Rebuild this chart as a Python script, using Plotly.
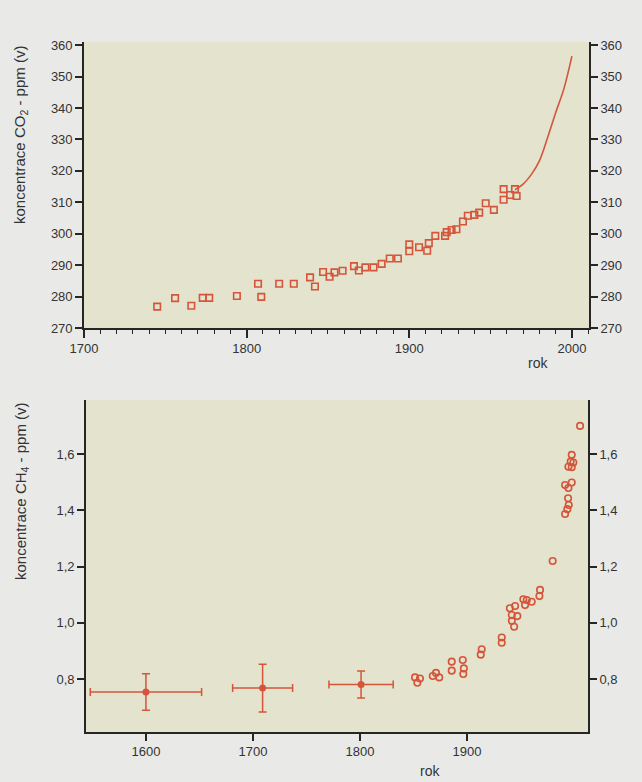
import plotly.graph_objects as go

# ---- CO2 (top panel) ----
co2_years = [1745, 1756, 1766, 1773, 1777, 1794, 1807, 1809, 1820, 1829, 1839, 1842,
             1847, 1851, 1854, 1859, 1866, 1869, 1873, 1878, 1883, 1888, 1893, 1900,
             1900, 1906, 1911, 1912, 1916, 1922, 1923, 1926, 1929, 1933, 1936, 1940,
             1943, 1947, 1952, 1958, 1958, 1962, 1965, 1966]
co2_ppm = [276.8, 279.5, 277.1, 279.6, 279.6, 280.2, 284.1, 279.9, 284.1, 284.1, 286.1, 283.2,
           287.8, 286.3, 287.7, 288.2, 289.7, 288.3, 289.3, 289.3, 290.4, 292.1, 292.1, 296.6,
           294.4, 295.7, 294.6, 297.0, 299.3, 299.3, 300.5, 301.2, 301.4, 303.9, 305.7, 306.0,
           306.7, 309.7, 307.6, 314.2, 310.8, 312.3, 314.2, 312.0]
co2_line_years = [1965, 1970, 1975, 1980, 1985, 1990, 1995, 2000]
co2_line_ppm = [314.0, 315.8, 318.8, 323.2, 330.5, 338.5, 346.0, 356.5]

co2_ticks = [270, 280, 290, 300, 310, 320, 330, 340, 350, 360]
co2_xticks = [1700, 1800, 1900, 2000]

# ---- CH4 (bottom panel) ----
ch4_err_years = [1600, 1709, 1801]
ch4_err_vals = [0.754, 0.768, 0.781]
ch4_err_y = [0.065, 0.085, 0.048]
ch4_err_x = [52, 28, 30]

ch4_years = [1851.4, 1856, 1853.6, 1868, 1871, 1874, 1885.7, 1885.7, 1896, 1897, 1896.5,
             1913.7, 1912.8, 1932.4, 1932.4, 1940, 1944.9, 1941.8, 1947, 1941.8, 1944,
             1952.6, 1955.8, 1954.2, 1960.4, 1968.2, 1967.6, 1980, 1991.6, 1993.7, 1995,
             1994.4, 1991.6, 1997.8, 1994.7, 1997.8, 1996.8, 1999.3, 1994.7, 1997.8, 2005.6]
ch4_vals = [0.806, 0.802, 0.787, 0.811, 0.822, 0.806, 0.862, 0.830, 0.868, 0.838, 0.818,
            0.906, 0.887, 0.948, 0.929, 1.052, 1.060, 1.028, 1.024, 1.007, 0.986,
            1.084, 1.081, 1.063, 1.075, 1.117, 1.095, 1.220, 1.387, 1.404, 1.419,
            1.443, 1.490, 1.499, 1.479, 1.597, 1.573, 1.570, 1.555, 1.553, 1.700]

ch4_ticks = [0.8, 1.0, 1.2, 1.4, 1.6]
ch4_ticktext = ["0,8", "1,0", "1,2", "1,4", "1,6"]
ch4_xticks = [1600, 1700, 1800, 1900]

RED = "#d4553a"
AX = "#262626"
TXT = "#333333"
FONT = "Liberation Sans, Arial, sans-serif"

W, H = 642, 782
def px(x): return x / W
def py(y): return 1 - y / H

fig = go.Figure()

fig.add_trace(go.Scatter(x=co2_years, y=co2_ppm, mode="markers",
                         marker=dict(symbol="square-open", size=6.5, color=RED, line=dict(width=1.6, color=RED)),
                         xaxis="x", yaxis="y", showlegend=False))
fig.add_trace(go.Scatter(x=co2_line_years, y=co2_line_ppm, mode="lines", line=dict(color=RED, width=1.6, shape="spline"),
                         xaxis="x", yaxis="y", showlegend=False))
# right-axis companion (same data, invisible) so the right axis is drawn
fig.add_trace(go.Scatter(x=co2_line_years, y=co2_line_ppm, mode="lines", line=dict(width=0), opacity=0,
                         xaxis="x", yaxis="y3", showlegend=False, hoverinfo="skip"))

fig.add_trace(go.Scatter(x=ch4_err_years, y=ch4_err_vals, mode="markers",
                         marker=dict(symbol="circle", size=7, color=RED),
                         error_y=dict(type="data", array=ch4_err_y, color=RED, thickness=1.5, width=4),
                         error_x=dict(type="data", array=ch4_err_x, color=RED, thickness=1.5, width=4),
                         xaxis="x2", yaxis="y2", showlegend=False))
fig.add_trace(go.Scatter(x=ch4_years, y=ch4_vals, mode="markers",
                         marker=dict(symbol="circle-open", size=6.5, color=RED, line=dict(width=1.6, color=RED)),
                         xaxis="x2", yaxis="y2", showlegend=False))
fig.add_trace(go.Scatter(x=ch4_years, y=ch4_vals, mode="lines", line=dict(width=0), opacity=0,
                         xaxis="x2", yaxis="y4", showlegend=False, hoverinfo="skip"))

axis_common = dict(showgrid=False, zeroline=False, showline=True, linecolor=AX, linewidth=1.6,
                   ticks="outside", tickcolor=AX, tickwidth=1.5, automargin=False,
                   tickfont=dict(family=FONT, size=13, color=TXT))

fig.update_layout(
    width=W, height=H,
    margin=dict(l=0, r=0, t=0, b=0, autoexpand=False),
    paper_bgcolor="#e9eae8",
    plot_bgcolor="#e4e3cd",
    font=dict(family=FONT, color=TXT),
    xaxis=dict(domain=[px(84), px(589)], anchor="y", range=[1700, 2010.5],
               tickvals=co2_xticks, ticklen=8,
               minor=dict(dtick=10, tick0=1700, ticks="outside", ticklen=4, tickcolor=AX, tickwidth=1.3),
               **axis_common),
    yaxis=dict(domain=[py(328), py(42)], anchor="x", range=[270, 361],
               tickvals=co2_ticks, ticklen=7, **axis_common),
    yaxis3=dict(overlaying="y", anchor="x", side="right", range=[270, 361],
                tickvals=co2_ticks, ticklen=7, **axis_common),
    xaxis2=dict(domain=[px(86), px(588)], anchor="y2", range=[1544, 2013],
                tickvals=ch4_xticks, ticklen=7, **axis_common),
    yaxis2=dict(domain=[py(732), py(400)], anchor="x2", range=[0.612, 1.792],
                tickvals=ch4_ticks, ticktext=ch4_ticktext, ticklen=7, **axis_common),
    yaxis4=dict(overlaying="y2", anchor="x2", side="right", range=[0.612, 1.792],
                tickvals=ch4_ticks, ticktext=ch4_ticktext, ticklen=7, **axis_common),
)

ann_font = dict(family=FONT, size=15, color=TXT)
fig.add_annotation(text="koncentrace CO<sub>2</sub> - ppm (v)", xref="paper", yref="paper",
                   x=px(21), y=py(44), xanchor="center", yanchor="top", textangle=-90,
                   showarrow=False, font=ann_font)
fig.add_annotation(text="koncentrace CH<sub>4</sub> - ppm (v)", xref="paper", yref="paper",
                   x=px(21), y=py(400), xanchor="center", yanchor="top", textangle=-90,
                   showarrow=False, font=ann_font)
fig.add_annotation(text="rok", xref="paper", yref="paper", x=px(538), y=py(363),
                   xanchor="center", yanchor="middle", showarrow=False, font=dict(family=FONT, size=14, color=TXT))
fig.add_annotation(text="rok", xref="paper", yref="paper", x=px(430), y=py(771),
                   xanchor="center", yanchor="middle", showarrow=False, font=dict(family=FONT, size=14, color=TXT))

fig.write_html("out.html", config={"displayModeBar": False},
               post_script="document.body.style.margin='0';document.body.style.padding='0';")
